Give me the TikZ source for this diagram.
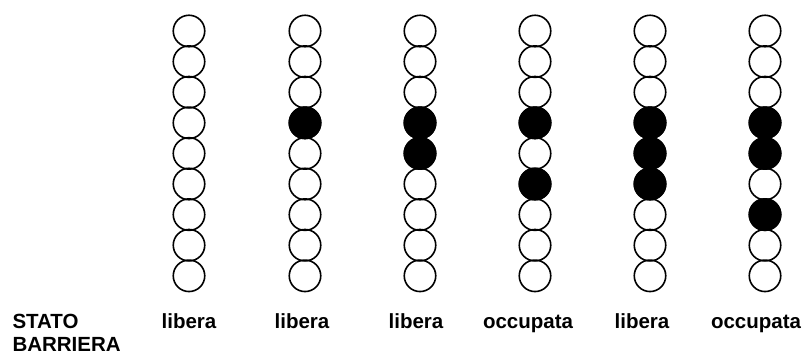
\documentclass[tikz,border=0pt]{standalone}
\usepackage{fontspec}
\setmainfont{Liberation Sans}
\usetikzlibrary{positioning}

\begin{document}
\begin{tikzpicture}[x=1pt,y=-1pt,
  bead/.style={circle,draw,line width=1.6pt,minimum size=31.5pt,inner sep=0pt},
  every node/.style={font=\fontsize{20.5}{23}\bfseries\selectfont}]
\useasboundingbox (0,0) rectangle (805,354);
% columns of beads
\foreach \col/\x in {1/189,2/305,3/420,4/535,5/650,6/765}
  \foreach \row in {1,...,9}
    \node[bead] (c\col r\row) at (\x,{31+30.6*(\row-1)}) {};
% filled beads
\fill (c2r4) circle (16.5pt);
\fill (c3r4) circle (16.5pt);\fill (c3r5) circle (16.5pt);
\fill (c4r4) circle (16.5pt);\fill (c4r6) circle (16.5pt);
\fill (c5r4) circle (16.5pt);\fill (c5r5) circle (16.5pt);\fill (c5r6) circle (16.5pt);
\fill (c6r4) circle (16.5pt);\fill (c6r5) circle (16.5pt);\fill (c6r7) circle (16.5pt);
% labels
\node[anchor=base west] (stato) at (9,328) {STATO};
\node[anchor=base west] (barriera) at (9,351) {BARRIERA};
\node[anchor=base] (lab1) at (189,328) {libera};
\node[anchor=base] (lab2) at (302,328) {libera};
\node[anchor=base] (lab3) at (416,328) {libera};
\node[anchor=base] (lab4) at (528,328) {occupata};
\node[anchor=base] (lab5) at (642,328) {libera};
\node[anchor=base] (lab6) at (756,328) {occupata};
\end{tikzpicture}
\end{document}
